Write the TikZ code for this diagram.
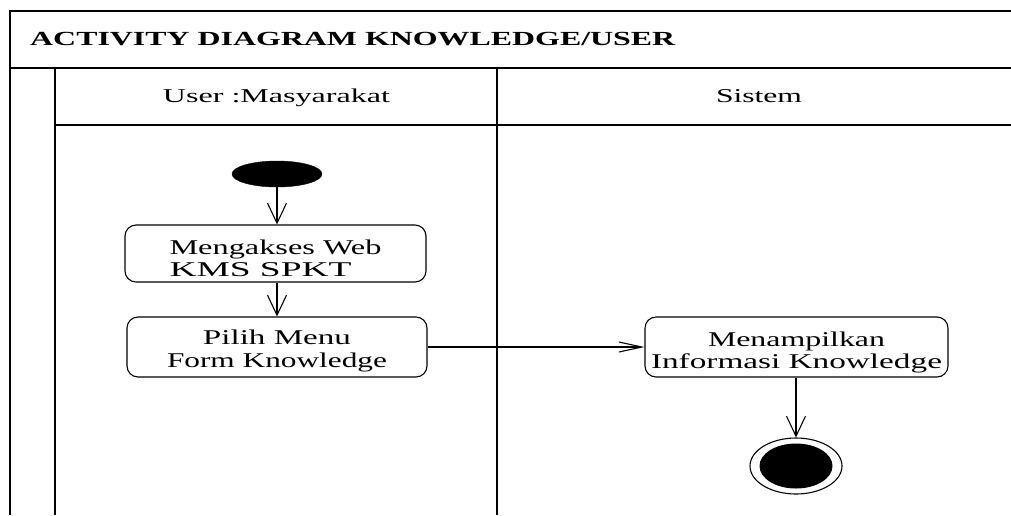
\documentclass[tikz,border=0pt]{standalone}
\usepackage{fontspec}
\setmainfont{Liberation Serif}
\usetikzlibrary{arrows.meta,shapes.geometric}
% a line of text set to a given width, keeping its height
\newcommand{\wl}[2]{\resizebox{#1pt}{\height}{#2}}
% two lines of an activity label: column type, line distance, lines
\newcommand{\twol}[4]{{\fontsize{21}{#2}\selectfont
  \begin{tabular}[t]{@{}#1@{}}#3\\#4\end{tabular}}}

\begin{document}
\begin{tikzpicture}[x=1pt,y=-1pt,
  frame/.style={line width=1.6pt, black},
  act/.style={draw, line width=1.1pt, rounded corners=11pt, inner sep=0pt,
    text height=0pt, text depth=0pt},
  flow/.style={line width=1.1pt, -{Straight Barb[length=20pt,width=19pt,line width=1.1pt]}},
  hflow/.style={line width=1.1pt, -{Straight Barb[length=23pt,width=10pt,line width=1.1pt]}},
  lanetitle/.style={anchor=base, inner sep=0pt, font=\fontsize{19.6}{24}\selectfont},
]
\useasboundingbox (0,0) rectangle (1011,515);

% frame, title bar and swimlanes
\draw[frame] (10,515) -- (10,11) -- (1011,11);
\draw[frame] (10,68) -- (1011,68);
\draw[frame] (55,68) -- (55,515);
\draw[frame] (55,125) -- (1011,125);
\draw[frame] (497,68) -- (497,515);

\node[anchor=base west, inner sep=0pt, font=\bfseries\fontsize{20}{24}\selectfont]
  (title) at (30,45) {\wl{645}{ACTIVITY DIAGRAM KNOWLEDGE/USER}};
\node[lanetitle] (laneuser) at (276.5,102) {\wl{227}{User :Masyarakat}};
\node[lanetitle] (lanesys) at (759,102) {\wl{86}{Sistem}};

% activities
\node[draw, fill=black, ellipse, minimum width=90pt, minimum height=26pt, inner sep=0pt]
  (start) at (277,174) {};
\node[act, text height=2pt, minimum width=301pt, minimum height=57pt]
  (web) at (275.5,253.5) {\twol{l}{21.6}{\wl{212}{Mengakses Web}}{\wl{182}{KMS SPKT}}};
\node[act, text depth=5pt, minimum width=300pt, minimum height=60pt]
  (form) at (277,347) {\twol{c}{23}{\wl{148}{Pilih Menu}}{\wl{220}{Form Knowledge}}};
\node[act, text depth=1.4pt, minimum width=303pt, minimum height=60pt]
  (info) at (796.5,347) {\twol{c}{22.4}{\wl{177}{Menampilkan}}{\wl{291}{Informasi Knowledge}}};
\node[draw, ellipse, line width=1.1pt, minimum width=92pt, minimum height=56pt, inner sep=0pt]
  (final) at (796,466) {};
\node[fill=black, ellipse, minimum width=73pt, minimum height=45pt, inner sep=0pt]
  (finalcore) at (final.center) {};

% flows
\draw[flow] (start.south) -- (start.south |- web.north);
\draw[flow] (web.south -| start.south) -- (form.north -| start.south);
\draw[hflow] (form.east) -- (info.west);
\draw[flow] (info.south -| final.north) -- (final.north);
\end{tikzpicture}
\end{document}
